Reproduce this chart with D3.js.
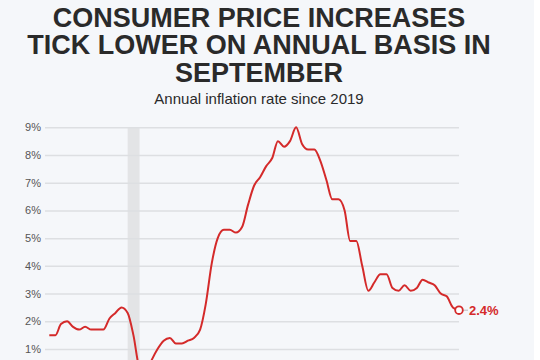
<!DOCTYPE html>
<html>
<head>
<meta charset="utf-8">
<script src="https://cdn.jsdelivr.net/npm/d3@7"></script>
<style>
  html, body { margin: 0; padding: 0; background: #ffffff; }
  svg { display: block; }
</style>
</head>
<body>
<svg id="chart"></svg>
<script>
// monthly annual inflation rate, Jan 2019 .. Sep 2024
let startMonth = "2019-01";
let rates = [
    1.5, 1.5, 1.9, 2.0, 1.8, 1.7, 1.8, 1.7, 1.7, 1.7, 2.1, 2.3,
    2.5, 2.3, 1.5, 0.3, 0.1, 0.6, 1.0, 1.3, 1.4, 1.2, 1.2, 1.3,
    1.4, 1.7, 2.6, 4.1, 5.0, 5.3, 5.3, 5.2, 5.4, 6.2, 6.9, 7.2,
    7.6, 7.9, 8.5, 8.3, 8.5, 9.0, 8.4, 8.2, 8.2, 7.8, 7.1, 6.4,
    6.4, 6.0, 4.9, 4.9, 4.0, 3.1, 3.4, 3.7, 3.7, 3.2, 3.1, 3.3,
    3.1, 3.2, 3.5, 3.4, 3.3, 3.0, 2.9, 2.5, 2.4
];
let yTicks = [1, 2, 3, 4, 5, 6, 7, 8, 9];
let recession = ["2020-02", "2020-04"];
let titleLines = [
    "CONSUMER PRICE INCREASES",
    "TICK LOWER ON ANNUAL BASIS IN",
    "SEPTEMBER"
];
let subtitle = "Annual inflation rate since 2019";

let width = 540;
let height = 360;

let parseMonth = d3.timeParse("%Y-%m");
let start = parseMonth(startMonth);
let data = rates.map((v, i) => ({ date: d3.timeMonth.offset(start, i), value: v }));

let svg = d3.select("#chart")
    .attr("width", width)
    .attr("height", height);

// page background
svg.append("rect")
    .attr("width", 534)
    .attr("height", height)
    .attr("fill", "#f5f7fa");

// title block
svg.append("g")
    .selectAll("text")
    .data(titleLines)
    .enter()
    .append("text")
    .attr("x", 259)
    .attr("y", (d, i) => 26.5 + i * 27.5)
    .attr("text-anchor", "middle")
    .style("font-family", "'Liberation Sans', Arial, sans-serif")
    .style("font-weight", "bold")
    .style("font-size", "27px")
    .style("fill", "#2a2a2a")
    .text(d => d);

svg.append("text")
    .attr("x", 259)
    .attr("y", 104)
    .attr("text-anchor", "middle")
    .style("font-family", "'Liberation Sans', Arial, sans-serif")
    .style("font-size", "15px")
    .style("fill", "#2a2a2a")
    .text(subtitle);

let x = d3.scaleTime()
    .domain(d3.extent(data, d => d.date))
    .range([49.3, 459]);

let y = d3.scaleLinear()
    .domain([0, 9])
    .range([376.7, 127.3]);

// recession band
svg.append("rect")
    .attr("x", x(parseMonth(recession[0])))
    .attr("y", y(9))
    .attr("width", x(parseMonth(recession[1])) - x(parseMonth(recession[0])))
    .attr("height", height - y(9))
    .attr("fill", "#e3e4e6");

// gridlines + labels
let axisY = d3.axisLeft(y)
    .tickValues(yTicks)
    .tickSize(-(459 - 45))
    .tickPadding(4)
    .tickFormat(d => d + "%");

let gAxis = svg.append("g")
    .attr("transform", "translate(45,0)")
    .call(axisY);
gAxis.select(".domain").remove();
gAxis.selectAll(".tick line")
    .attr("stroke", "#dddfe2")
    .attr("stroke-width", 1.5);
gAxis.selectAll(".tick text")
    .style("font-family", "'Liberation Sans', Arial, sans-serif")
    .style("font-size", "11px")
    .style("fill", "#555");

// line
let line = d3.line()
    .x(d => x(d.date))
    .y(d => y(d.value))
    .curve(d3.curveMonotoneX);

svg.append("path")
    .datum(data)
    .attr("d", line)
    .attr("fill", "none")
    .attr("stroke", "#d42a2a")
    .attr("stroke-width", 2);

// end marker and label
let last = data[data.length - 1];
svg.append("line")
    .attr("x1", x(last.date) + 4)
    .attr("x2", x(last.date) + 9)
    .attr("y1", y(last.value))
    .attr("y2", y(last.value))
    .attr("stroke", "#bbb")
    .attr("stroke-width", 1);

svg.append("circle")
    .attr("cx", x(last.date))
    .attr("cy", y(last.value))
    .attr("r", 3.8)
    .attr("fill", "#ffffff")
    .attr("stroke", "#d42a2a")
    .attr("stroke-width", 1.8);

svg.append("text")
    .attr("x", x(last.date) + 10)
    .attr("y", y(last.value))
    .attr("dy", "0.35em")
    .style("font-family", "'Liberation Sans', Arial, sans-serif")
    .style("font-weight", "bold")
    .style("font-size", "13px")
    .style("fill", "#d42a2a")
    .text(d3.format(".1f")(last.value) + "%");
</script>
</body>
</html>
